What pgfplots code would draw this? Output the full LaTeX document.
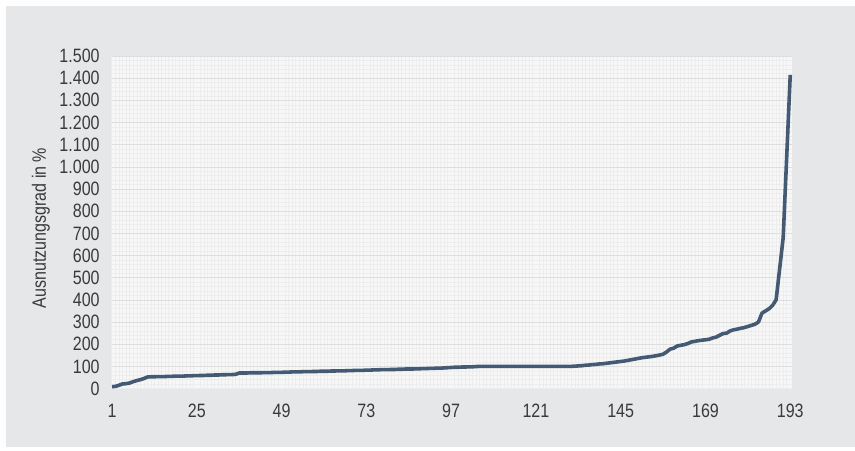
\documentclass[border=0pt]{standalone}
\usepackage{fontspec}
\setmainfont[FakeStretch=0.83]{Liberation Sans}
\usepackage{pgfplots}
\pgfplotsset{compat=1.18}
\definecolor{bggray}{HTML}{E6E7E8}
\definecolor{plotbg}{HTML}{F7F7F7}
\definecolor{minorgrid}{HTML}{EDEDED}
\definecolor{majorgrid}{HTML}{DDDDDD}
\definecolor{txt}{HTML}{3A3A3A}
\definecolor{linecol}{HTML}{435A72}

\begin{document}
\begin{tikzpicture}
  % picture frame: 855 x 450 px, 1 px = 0.75 pt
  \useasboundingbox (0,0) rectangle (641.25pt,337.5pt);
  \fill[white] (0,0) rectangle (641.25pt,337.5pt);
  \fill[bggray] (4.5pt,2.5pt) rectangle (641.25pt,333pt);
  \begin{axis}[
      at={(83.25pt,46.1pt)}, anchor=south west,
      scale only axis,
      width=510.75pt, height=249.4pt,
      xmin=0.7, xmax=193.5,
      ymin=0, ymax=1500,
      xtick={1,25,49,73,97,121,145,169,193},
      ytick={0,100,...,1500},
      minor x tick num=23,
      minor y tick num=4,
      major tick length=0pt, minor tick length=0pt,
      axis background/.style={fill=plotbg},
      grid=both,
      minor grid style={draw=minorgrid, line width=0.4pt},
      major grid style={draw=majorgrid, line width=0.5pt},
      xmajorgrids=false,
      axis line style={draw=white!85!gray, line width=0.6pt},
      axis x line*=bottom, axis y line*=left,
      /pgf/number format/assume math mode=true,
      /pgf/number format/1000 sep={.},
      ticklabel style={font=\fontsize{14.5}{16}\selectfont, text=txt},
      yticklabel style={xshift=-5pt},
      xticklabel style={yshift=-8pt},
      clip=false,
    ]
    \addplot[color=linecol, line width=2.7pt, line join=round, mark=none] coordinates {
      (1,8) (2,10) (3,15) (4,21) (5,22) (6,25) (7,31) (8,36) (9,40) (10,45) (11,52)
      (12,53) (13,53) (14,54) (15,54) (16,54) (17,55) (18,55) (19,56) (20,56)
      (21,56) (22,57) (23,57) (24,58) (25,58) (26,59) (27,59) (28,60) (29,60) (30,61)
      (31,61) (32,62) (33,62) (34,63) (35,63) (36,64)
      (37,70) (38,70) (39,70) (40,71) (41,71) (42,71) (43,71) (44,72) (45,72) (46,72)
      (47,73) (48,73) (49,73) (50,74)
      (51,74) (52,75) (53,75) (54,75) (55,76) (56,76) (57,76) (58,77) (59,77) (60,78)
      (61,78) (62,78) (63,79) (64,79) (65,80) (66,80) (67,80) (68,81) (69,81) (70,82)
      (71,82) (72,82) (73,83) (74,83) (75,84) (76,84) (77,85) (78,85) (79,85) (80,86)
      (81,86) (82,87) (83,87) (84,88) (85,88) (86,88) (87,89) (88,89) (89,90) (90,90)
      (91,91) (92,91) (93,92) (94,92) (95,93) (96,94) (97,95)
      (98,96) (99,96) (100,97) (101,97) (102,98) (103,98) (104,99)
      (105,100) (106,100) (107,100) (108,100) (109,100) (110,100) (111,100) (112,100)
      (113,100) (114,100) (115,100) (116,100) (117,100) (118,100) (119,100) (120,100)
      (121,100) (122,100) (123,100) (124,100) (125,100) (126,100) (127,100) (128,100)
      (129,100) (130,100) (131,100)
      (132,101) (133,102) (134,103) (135,105) (136,106) (137,108) (138,109) (139,111)
      (140,112) (141,114) (142,116) (143,118) (144,120) (145,122)
      (146,124) (147,127) (148,130) (149,133) (150,136) (151,139) (152,141) (153,143)
      (154,145) (155,148) (156,151) (157,155)
      (158,165) (159,178) (160,182) (161,192) (162,195) (163,198) (164,203) (165,210)
      (166,213) (167,216) (168,218) (169,220) (170,222) (171,228) (172,232) (173,240)
      (174,248) (175,250) (176,260) (177,265) (178,268) (179,272) (180,275) (181,280)
      (182,285) (183,290) (184,300) (185,340) (186,350) (187,360) (188,375) (189,400)
      (190,540) (191,680) (192,1046) (193,1415)
    };
  \end{axis}
  \node[rotate=90, text=txt, font=\fontsize{14.5}{16}\selectfont] at (30.75pt,166.5pt) {Ausnutzungsgrad in \%};
\end{tikzpicture}
\end{document}
